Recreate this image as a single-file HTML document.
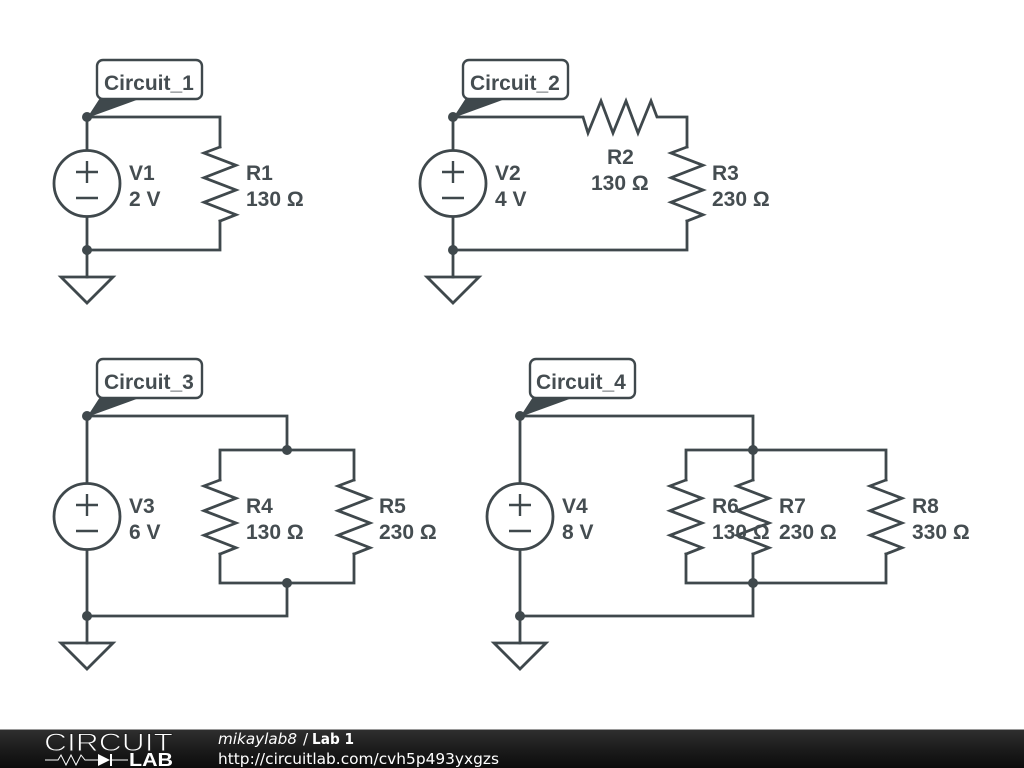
<!DOCTYPE html>
<html><head><meta charset="utf-8"><title>Lab 1</title>
<style>
html,body{margin:0;padding:0;background:#fff;width:1024px;height:768px;overflow:hidden}
svg{display:block}
.w{fill:none;stroke:#3f484c;stroke-width:2.8;stroke-linejoin:miter;stroke-linecap:square}
.d{fill:#3f484c;stroke:none}
.t{font-family:"Liberation Sans",Arial,sans-serif;font-size:21px;font-weight:bold;fill:#454d51}
.c{fill:#fff;stroke:#3f484c;stroke-width:2.4}
.f{font-family:"DejaVu Sans",sans-serif;font-size:15px;fill:#fff}
</style></head><body>
<svg width="1024" height="768" viewBox="0 0 1024 768" xmlns="http://www.w3.org/2000/svg">
<defs>
<linearGradient id="g" x1="0" y1="0" x2="0" y2="1"><stop offset="0" stop-color="#303030"/><stop offset=".5" stop-color="#1c1c1c"/><stop offset="1" stop-color="#0c0c0c"/></linearGradient>
<path id="r" class="w" d="M0 0L-16 6L16 18.3L-16 30.7L16 43L-16 55.3L16 67.7L0 74"/>
<g id="v"><circle cx="0" cy="0" r="33" fill="#fff" stroke="#3f484c" stroke-width="2.8"/><path d="M-11 -11.5H11M0 -22.5V-.5M-11 14.5H11" fill="none" stroke="#3f484c" stroke-width="2.4"/></g>
<path id="gnd" class="w" d="M0 0L-26 0L0 26L26 0Z"/>
</defs>
<rect width="1024" height="768" fill="#fff"/>

<!-- Circuit 1 -->
<path class="w" d="M87 117H220V147M220 221V250H87M87 117V150M87 217V277"/>
<use href="#r" x="220" y="147"/><use href="#v" x="87" y="183.5"/><use href="#gnd" x="87" y="277"/>
<circle class="d" cx="87" cy="117" r="5"/><circle class="d" cx="87" cy="250" r="5"/>
<polygon class="d" points="87,118 100,98 142,98"/>
<rect class="c" x="97" y="60" width="105" height="39" rx="6"/>
<text class="t" x="104" y="90">Circuit_1</text>
<text class="t" x="129" y="180">V1</text><text class="t" x="129" y="206">2 V</text>
<text class="t" x="246" y="180">R1</text><text class="t" x="246" y="206">130 Ω</text>

<!-- Circuit 2 -->
<path class="w" d="M453 117H583L588 133L601 101L613 133L626 101L638 133L651 101L657 117H687V147M687 221V250H453M453 117V150M453 217V277"/>
<use href="#r" x="687" y="147"/><use href="#v" x="453" y="183.5"/><use href="#gnd" x="453" y="277"/>
<circle class="d" cx="453" cy="117" r="5"/><circle class="d" cx="453" cy="250" r="5"/>
<polygon class="d" points="453,118 466,98 508,98"/>
<rect class="c" x="463" y="60" width="105" height="39" rx="6"/>
<text class="t" x="470" y="90">Circuit_2</text>
<text class="t" x="495" y="180">V2</text><text class="t" x="495" y="206">4 V</text>
<text class="t" x="607" y="164">R2</text><text class="t" x="591" y="190">130 Ω</text>
<text class="t" x="712" y="180">R3</text><text class="t" x="712" y="206">230 Ω</text>

<!-- Circuit 3 -->
<path class="w" d="M87 416H287V450M220 450H354V480M220 450V480M220 554V583H354V554M287 583V616H87M87 416V483M87 550V643"/>
<use href="#r" x="220" y="480"/><use href="#r" x="354" y="480"/><use href="#v" x="87" y="516.5"/><use href="#gnd" x="87" y="643"/>
<circle class="d" cx="87" cy="416" r="5"/><circle class="d" cx="87" cy="616" r="5"/><circle class="d" cx="287" cy="450" r="5"/><circle class="d" cx="287" cy="583" r="5"/>
<polygon class="d" points="87,417 100,397 142,397"/>
<rect class="c" x="97" y="359" width="105" height="39" rx="6"/>
<text class="t" x="104" y="389">Circuit_3</text>
<text class="t" x="129" y="513">V3</text><text class="t" x="129" y="539">6 V</text>
<text class="t" x="246" y="513">R4</text><text class="t" x="246" y="539">130 Ω</text>
<text class="t" x="379" y="513">R5</text><text class="t" x="379" y="539">230 Ω</text>

<!-- Circuit 4 -->
<path class="w" d="M520 416H753V480M686 480V450H886V480M686 554V583H886V554M753 554V616H520M520 416V483M520 550V643"/>
<use href="#r" x="686" y="480"/><use href="#r" x="753" y="480"/><use href="#r" x="886" y="480"/><use href="#v" x="520" y="516.5"/><use href="#gnd" x="520" y="643"/>
<circle class="d" cx="520" cy="416" r="5"/><circle class="d" cx="520" cy="616" r="5"/><circle class="d" cx="753" cy="450" r="5"/><circle class="d" cx="753" cy="583" r="5"/>
<polygon class="d" points="520,417 533,397 575,397"/>
<rect class="c" x="530" y="359" width="105" height="39" rx="6"/>
<text class="t" x="536" y="389">Circuit_4</text>
<text class="t" x="562" y="513">V4</text><text class="t" x="562" y="539">8 V</text>
<text class="t" x="712" y="513">R6</text><text class="t" x="712" y="539">130 Ω</text>
<text class="t" x="779" y="513">R7</text><text class="t" x="779" y="539">230 Ω</text>
<text class="t" x="912" y="513">R8</text><text class="t" x="912" y="539">330 Ω</text>

<!-- Footer -->
<rect x="0" y="729" width="1024" height="39" fill="url(#g)"/>
<rect x="0" y="729" width="1024" height="1" fill="#9a9a9a"/>
<text x="44" y="751" font-family="Liberation Sans,sans-serif" font-size="25" fill="#fff" stroke="#222" stroke-width=".9" textLength="129" lengthAdjust="spacingAndGlyphs">CIRCUIT</text>
<path d="M45 760H58L61 755L66 765L71 755L76 765L81 755L85 760H98M112 760H128" fill="none" stroke="#fff" stroke-width="1"/>
<path d="M98 754L110 760L98 766Z" fill="#fff"/><rect x="110" y="754" width="2" height="12" fill="#fff"/>
<text x="129" y="766" font-family="Liberation Sans,sans-serif" font-size="18" font-weight="bold" fill="#fff" textLength="44" lengthAdjust="spacingAndGlyphs">LAB</text>
<text class="f" x="218" y="744" font-style="italic" textLength="79" lengthAdjust="spacingAndGlyphs">mikaylab8</text>
<text class="f" x="303" y="744">/</text>
<text class="f" x="312" y="744" font-weight="bold" textLength="42" lengthAdjust="spacingAndGlyphs">Lab 1</text>
<text class="f" x="218" y="764" textLength="281" lengthAdjust="spacingAndGlyphs">http://circuitlab.com/cvh5p493yxgzs</text>
</svg>
</body></html>
